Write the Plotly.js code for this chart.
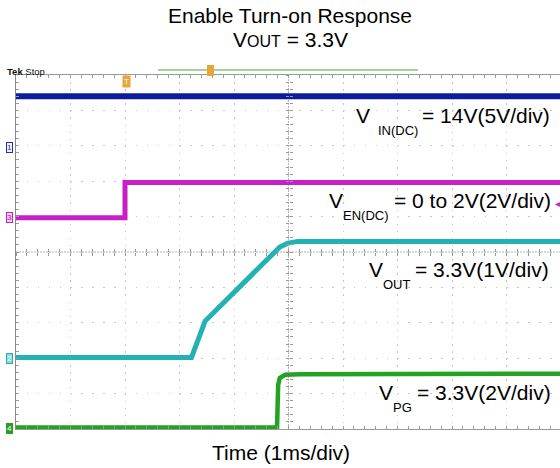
<!DOCTYPE html>
<html>
<head>
<meta charset="utf-8">
<script src="https://cdn.plot.ly/plotly-3.0.1.min.js"></script>
<style>html,body{margin:0;padding:0;background:#fff;}#chart{width:560px;height:468px;}</style>
</head>
<body>
<div id="chart"></div>
<script>
// ---- data (time in divisions of 1 ms, level in screen divisions) ----
const tVin = [0, 10];
const vin  = [9.40, 9.40];
const tEn  = [0, 2.0, 2.0, 10];
const ven  = [5.97, 5.97, 6.96, 6.96];
const tOut = [0, 3.22, 3.47, 4.70, 4.84, 4.99, 5.17, 10];
const vout = [2.02, 2.02, 3.05, 4.94, 5.14, 5.25, 5.30, 5.30];
const tPg  = [0, 4.79, 4.81, 4.84, 4.94, 5.21, 10];
const vpg  = [0.04, 0.04, 1.24, 1.44, 1.53, 1.55, 1.56];

const labelMain = ['= 14V(5V/div)', '= 0 to 2V(2V/div)', '= 3.3V(1V/div)', '= 3.3V(2V/div)'];
const labelSub  = ['IN(DC)', 'EN(DC)', 'OUT', 'PG'];
const chanNames = ['1', '3', '2', '4'];

// ---- geometry ----
const W = 560, H = 468, L = 16, T = 75, PW = 544, PH = 354;
const XMAX = PW / 54.5;
const FONT = 'Liberation Sans, Arial, sans-serif';
const fx = px => (px - L) / PW;
const fy = py => (T + PH - py) / PH;
function ann(text, px, base, size, xanchor, color, extra) {
  return Object.assign({
    xref: 'paper', yref: 'paper', x: fx(px), y: fy(base - 0.3465 * size),
    xanchor: xanchor, yanchor: 'middle', text: text, showarrow: false,
    borderpad: 0, font: {family: FONT, size: size, color: color || '#000'}
  }, extra || {});
}

const COL = {vin: '#0c1c9c', ven: '#c81ec8', vout: '#22b2b4', vpg: '#22a322'};

const traces = [
  {x: tVin, y: vin, mode: 'lines', line: {color: COL.vin, width: 6}, name: 'VIN'},
  {x: tEn, y: ven, mode: 'lines', line: {color: COL.ven, width: 5}, name: 'VEN'},
  {x: tOut, y: vout, mode: 'lines', line: {color: COL.vout, width: 5}, name: 'VOUT'},
  {x: tPg, y: vpg, mode: 'lines', line: {color: COL.vpg, width: 4.5}, name: 'VPG'},
  {x: [], y: [], xaxis: 'x2', yaxis: 'y', hoverinfo: 'skip'},
  {x: [], y: [], xaxis: 'x3', yaxis: 'y', hoverinfo: 'skip'},
  {x: [], y: [], xaxis: 'x', yaxis: 'y2', hoverinfo: 'skip'},
  {x: [], y: [], xaxis: 'x', yaxis: 'y3', hoverinfo: 'skip'}
];

const tickAxX = side => ({overlaying: 'x', anchor: 'free', position: 0.5, range: [0, XMAX],
  showgrid: false, zeroline: false, showticklabels: false, showline: false,
  ticks: side, dtick: 0.2, tick0: 0, ticklen: 3, tickcolor: '#9a9a9a', tickwidth: 1});
const tickAxY = side => ({overlaying: 'y', anchor: 'free', position: 5 / XMAX, range: [0, 10],
  showgrid: false, zeroline: false, showticklabels: false, showline: false,
  ticks: side, dtick: 0.2, tick0: 0, ticklen: 3, tickcolor: '#9a9a9a', tickwidth: 1});

const annotations = [
  ann('V<span style="font-size:16px">OUT</span> = 3.3V', 290, 47, 21, 'center'),
  ann('Time (1ms/div)', 281, 460, 21, 'center'),
  ann('<b>Tek</b> Stop', 6, 74.5, 9.5, 'left', '#111'),
  // VIN
  ann('V', 355, 123, 21, 'left'), ann(labelSub[0], 377, 135, 13, 'left'), ann(labelMain[0], 551, 123, 21, 'right'),
  // VEN
  ann('V', 328, 208, 21, 'left'), ann(labelSub[1], 342, 220, 13, 'left'), ann(labelMain[1], 552, 208, 21, 'right'),
  // VOUT
  ann('V', 368, 277, 21, 'left'), ann(labelSub[2], 382, 289, 13, 'left'), ann(labelMain[2], 550, 277, 21, 'right'),
  // VPG
  ann('V', 378, 400, 21, 'left'), ann(labelSub[3], 392, 412, 13, 'left'), ann(labelMain[3], 552, 400, 21, 'right'),
  // magenta level arrow
  ann('◂', 557, 207, 10, 'center', COL.ven),
  // trigger marker
  ann('T', 126, 84, 8, 'center', '#fff', {bgcolor: '#e8a53a', borderpad: 1}),
  // channel ground markers
  ann(chanNames[0], 9, 150, 8, 'center', '#2233aa', {bgcolor: '#eef0ff', bordercolor: '#2233aa', borderwidth: 1, borderpad: 0}),
  ann(chanNames[1], 9, 220, 8, 'center', '#a010a0', {bgcolor: '#f6d0f6', bordercolor: '#c81ec8', borderwidth: 1, borderpad: 0}),
  ann(chanNames[2], 9, 361, 8, 'center', '#ffffff', {bgcolor: '#8fd8da', bordercolor: '#22b2b4', borderwidth: 1, borderpad: 0}),
  ann(chanNames[3], 9, 431, 8, 'center', '#ffffff', {bgcolor: '#2a9a2a', bordercolor: '#22a322', borderwidth: 1, borderpad: 0})
];

const shapes = [
  {type: 'line', xref: 'x', yref: 'y', x0: 5, x1: 5, y0: 0, y1: 10, line: {color: '#b4b4b4', width: 1, dash: '2px,1px'}, layer: 'below'},
  {type: 'line', xref: 'x', yref: 'y', x0: 0, x1: XMAX, y0: 5, y1: 5, line: {color: '#b4b4b4', width: 1, dash: '2px,1px'}, layer: 'below'},
  {type: 'line', xref: 'paper', yref: 'paper', x0: fx(158), x1: fx(418), y0: fy(70), y1: fy(70), line: {color: '#a6d39a', width: 2}},
  {type: 'rect', xref: 'paper', yref: 'paper', x0: fx(207), x1: fx(214), y0: fy(76), y1: fy(65), fillcolor: '#e8a53a', line: {width: 0}}
];

const layout = {
  width: W, height: H,
  margin: {l: L, r: W - L - PW, t: T, b: H - T - PH, pad: 0},
  paper_bgcolor: '#fff', plot_bgcolor: '#fff',
  showlegend: false,
  title: {text: 'Enable Turn-on Response', font: {family: FONT, size: 21, color: '#000'},
          x: fx(290), xref: 'paper', xanchor: 'center', y: 1 - 8.3 / H, yref: 'container', yanchor: 'top'},
  xaxis: {range: [0, XMAX], showticklabels: false, zeroline: false,
          showgrid: true, gridcolor: '#c4c4c4', gridwidth: 1, griddash: '1.5px,5.58px',
          dtick: 1, tick0: 0, ticks: 'inside', ticklen: 3, tickcolor: '#9a9a9a',
          minor: {dtick: 0.2, tick0: 0, ticks: 'inside', ticklen: 3, tickcolor: '#9a9a9a', showgrid: false},
          showline: true, linecolor: '#9a9a9a', linewidth: 1, mirror: 'ticks'},
  yaxis: {range: [0, 10], showticklabels: false, zeroline: false,
          showgrid: true, gridcolor: '#c4c4c4', gridwidth: 1, griddash: '1.5px,9.4px',
          dtick: 1, tick0: 0, ticks: 'inside', ticklen: 3, tickcolor: '#9a9a9a',
          minor: {dtick: 0.2, tick0: 0, ticks: 'inside', ticklen: 3, tickcolor: '#9a9a9a', showgrid: false},
          showline: true, linecolor: '#8a8a8a', linewidth: 1, mirror: false},
  xaxis2: tickAxX('inside'), xaxis3: tickAxX('outside'),
  yaxis2: tickAxY('inside'), yaxis3: tickAxY('outside'),
  annotations: annotations,
  shapes: shapes
};

Plotly.newPlot('chart', traces, layout, {staticPlot: true, displayModeBar: false});
</script>
</body>
</html>
